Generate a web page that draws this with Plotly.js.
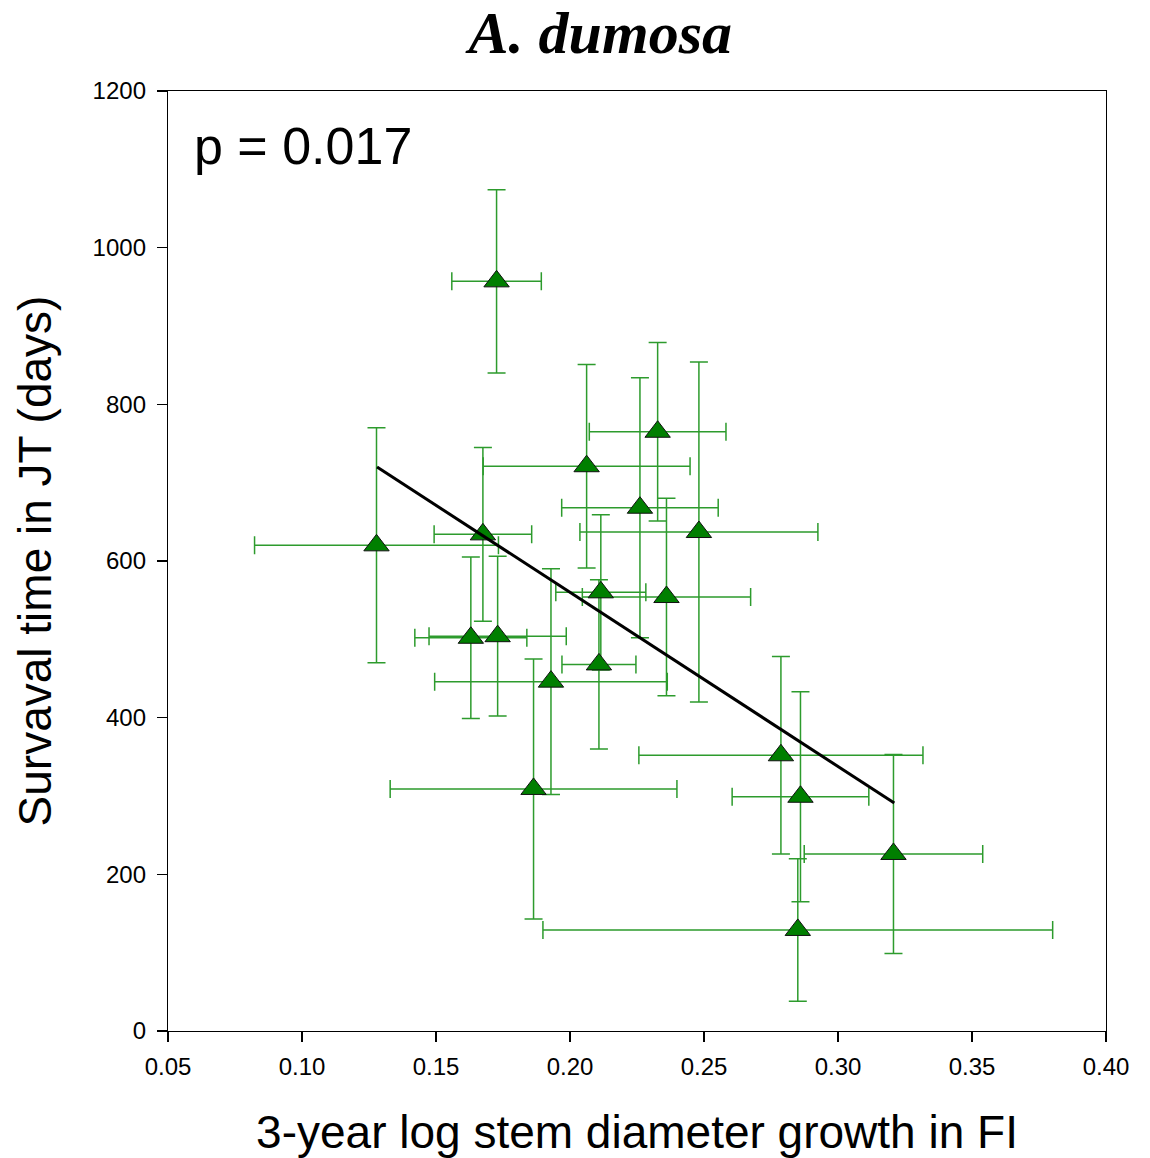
<!DOCTYPE html>
<html>
<head>
<meta charset="utf-8">
<script src="https://cdn.plot.ly/plotly-3.0.1.min.js"></script>
<style>html,body{margin:0;padding:0;background:#fff;}#chart{width:1150px;height:1158px;}</style>
</head>
<body>
<div id="chart"></div>
<script>
// Data
const growthFI = [0.1726, 0.2327, 0.2062, 0.2261, 0.2481, 0.2360, 0.2115, 0.2108, 0.1929, 0.1630, 0.1730, 0.1675, 0.1278, 0.1864, 0.2787, 0.2860, 0.3207, 0.2850];
const survivalDays = [957, 765, 721, 668, 637, 554, 560, 468, 446, 502, 504, 634, 620, 309, 352, 299, 226, 129];
const survivalErr = [117, 114, 130, 166, 217, 126, 99, 108, 144, 103, 102, 111, 150, 166, 126, 134, 127, 91];
const growthErr = [0.0167, 0.0255, 0.0386, 0.0292, 0.0444, 0.0314, 0.0168, 0.0138, 0.0434, 0.0209, 0.0256, 0.0182, 0.0455, 0.0535, 0.0530, 0.0255, 0.0333, 0.0951];
const fitX = [0.128, 0.321];
const fitY = [720, 291];
const xTickVals = [0.05, 0.10, 0.15, 0.20, 0.25, 0.30, 0.35, 0.40];
const xTickText = ['0.05', '0.10', '0.15', '0.20', '0.25', '0.30', '0.35', '0.40'];
const yTickVals = [0, 200, 400, 600, 800, 1000, 1200];
const titleText = '<b><i>A. dumosa</i></b>';
const pText = 'p = 0.017';

const errColor = 'rgb(45,155,45)';
const traces = [
  {
    type: 'scatter', mode: 'markers',
    x: growthFI, y: survivalDays,
    error_y: {type: 'data', array: survivalErr, visible: true, color: errColor, thickness: 1.5, width: 9},
    error_x: {type: 'data', array: growthErr, visible: true, color: errColor, thickness: 1.5, width: 9},
    marker: {symbol: 'triangle-up', size: 22, color: '#007f00', line: {color: '#111', width: 1}},
    showlegend: false, hoverinfo: 'skip'
  },
  {
    type: 'scatter', mode: 'lines',
    x: fitX, y: fitY,
    line: {color: '#000', width: 3},
    showlegend: false, hoverinfo: 'skip'
  }
];

const tickFont = {family: 'Liberation Sans, Arial, sans-serif', size: 24, color: '#000'};
const layout = {
  width: 1150, height: 1158,
  margin: {l: 168, r: 44, t: 91, b: 127, pad: 0},
  paper_bgcolor: '#fff', plot_bgcolor: '#fff',
  title: {
    text: titleText,
    font: {family: 'Liberation Serif, Times New Roman, serif', size: 60, color: '#000'},
    xref: 'container', x: 0.522, xanchor: 'center',
    yref: 'container', y: 0.972, yanchor: 'middle'
  },
  xaxis: {
    range: [0.05, 0.40], tickvals: xTickVals, ticktext: xTickText,
    showgrid: false, zeroline: false,
    showline: true, linecolor: '#000', linewidth: 1.2, mirror: true,
    ticks: 'outside', ticklen: 10, tickwidth: 1.2, tickcolor: '#000',
    tickfont: tickFont, ticklabelstandoff: 4,
    title: {text: '3-year log stem diameter growth in FI', font: {family: 'Liberation Sans, Arial, sans-serif', size: 46, color: '#000'}, standoff: 40},
    automargin: false
  },
  yaxis: {
    range: [0, 1200], tickvals: yTickVals,
    showgrid: false, zeroline: false,
    showline: true, linecolor: '#000', linewidth: 1.2, mirror: true,
    ticks: 'outside', ticklen: 10, tickwidth: 1.2, tickcolor: '#000',
    tickfont: tickFont, ticklabelstandoff: 6,
    title: {text: 'Survaval time in JT (days)', font: {family: 'Liberation Sans, Arial, sans-serif', size: 46, color: '#000'}, standoff: 26},
    automargin: false
  },
  annotations: [{
    text: pText, xref: 'paper', yref: 'paper', x: 0.0256, y: 0.942,
    xanchor: 'left', yanchor: 'middle', showarrow: false,
    font: {family: 'Liberation Sans, Arial, sans-serif', size: 52, color: '#000'}
  }]
};

Plotly.newPlot('chart', traces, layout, {staticPlot: true, displayModeBar: false});
</script>
</body>
</html>
